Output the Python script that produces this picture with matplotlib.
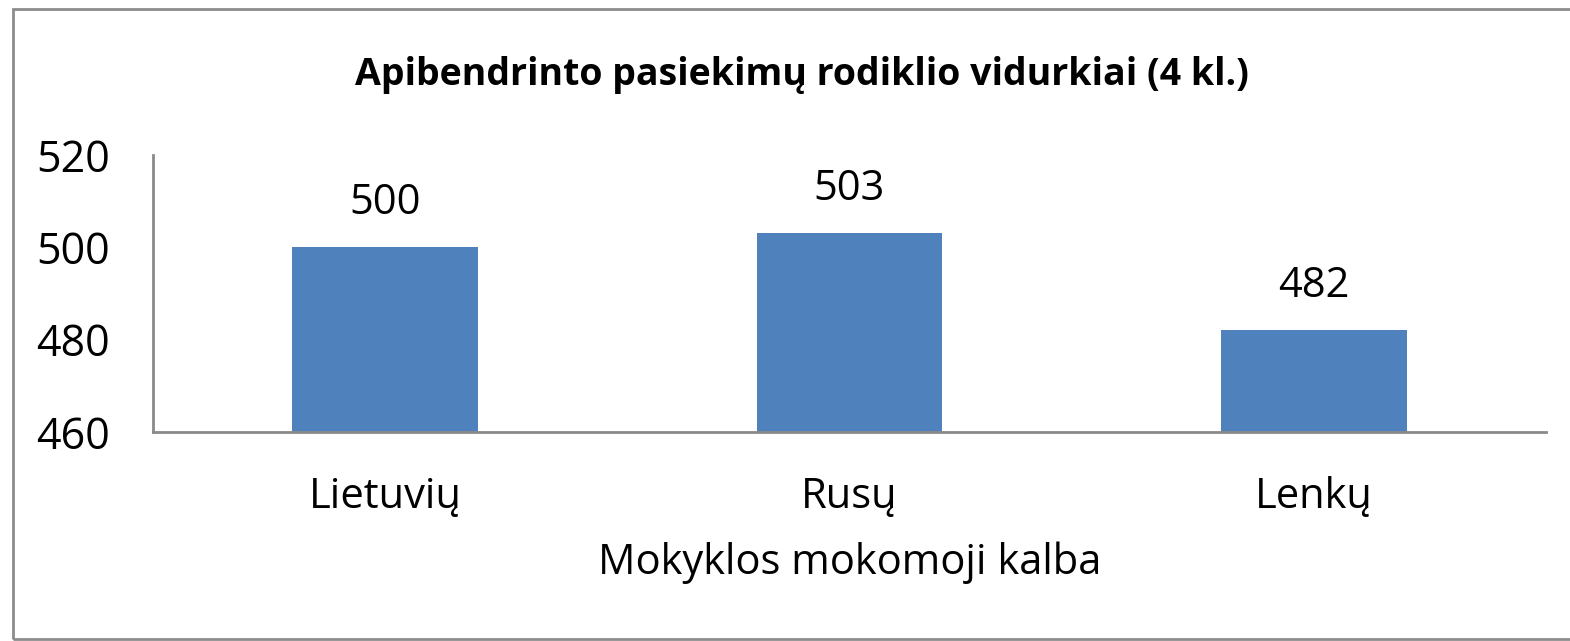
import matplotlib
matplotlib.use("Agg")
import matplotlib.pyplot as plt
from matplotlib.patches import Rectangle

categories = ["Lietuvių", "Rusų", "Lenkų"]
values = [500, 503, 482]
yticks = [460, 480, 500, 520]
title = "Apibendrinto pasiekimų rodiklio vidurkiai (4 kl.)"
xlabel = "Mokyklos mokomoji kalba"

W, H = 1570, 641
fig = plt.figure(figsize=(W / 100, H / 100), dpi=100)
plt.rcParams['font.family'] = ['Open Sans', 'DejaVu Sans']

# outer border
fig.patches.append(Rectangle((13 / W, 1 - 639 / H), (W + 20 - 13) / W, (639 - 9) / H,
                             transform=fig.transFigure, fill=False,
                             edgecolor="#8c8c8c", linewidth=2, zorder=0))

ax = fig.add_axes([153 / W, 1 - 432 / H, (1546 - 153) / W, (432 - 155) / H])
x = list(range(len(categories)))
ax.bar(x, [v - yticks[0] for v in values], bottom=yticks[0], width=0.4, color="#4F81BD")
ax.set_xlim(-0.5, len(categories) - 0.5)
ax.set_ylim(yticks[0], yticks[-1])
ax.set_yticks(yticks)
ax.set_yticklabels([str(t) for t in yticks], fontsize=31)
ax.set_xticks(x)
ax.set_xticklabels(categories, fontsize=30)
ax.tick_params(axis="both", length=0)
ax.tick_params(axis="y", pad=31)
ax.tick_params(axis="x", pad=32)
for s in ["top", "right"]:
    ax.spines[s].set_visible(False)
for s in ["left", "bottom"]:
    ax.spines[s].set_color("#8a8a8a")
    ax.spines[s].set_linewidth(2)

for xi, v in zip(x, values):
    ax.annotate(str(v), (xi, v), xytext=(0, 17), textcoords="offset points",
                ha="center", va="bottom", fontsize=30)

ax.set_xlabel(xlabel, fontsize=30)
ax.xaxis.label.set_va("center")
ax.xaxis.set_label_coords(0.5, (432 - 563) / (432 - 155))
fig.text(802 / W, 1 - 75 / H, title, ha="center", va="center", fontsize=27, fontweight="bold")

fig.savefig("out.png", dpi=100)
